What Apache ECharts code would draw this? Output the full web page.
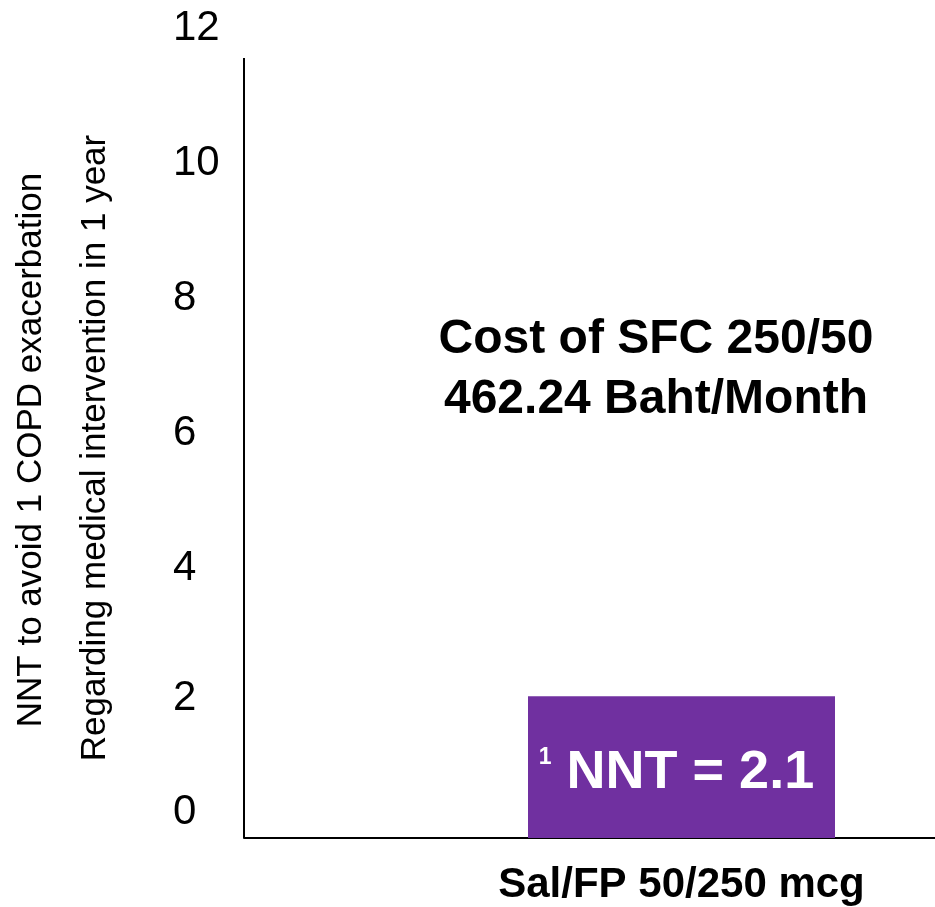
<!DOCTYPE html>
<html>
<head>
<meta charset="utf-8">
<title>NNT to avoid 1 COPD exacerbation</title>
<script src="https://cdn.jsdelivr.net/npm/echarts@6/dist/echarts.min.js"></script>
<style>
  html, body { margin: 0; padding: 0; background: #ffffff; }
  #chart { width: 935px; height: 907px; }
</style>
</head>
<body>
<div id="chart"></div>
<script>
// Treatment arm and its number needed to treat
const categories = ['Sal/FP 50/250 mcg'];
const nntValues = [2.1];

// Value axis range
const yMin = 0;
const yMax = 12;
const yStep = 2;

// Texts
const yTitleLines = [
  'NNT to avoid 1 COPD exacerbation',
  'Regarding medical intervention in 1 year'
];
const costNote = ['Cost of SFC 250/50', '462.24 Baht/Month'];

const FONT = '"Liberation Sans", Arial, Helvetica, sans-serif';

const chart = echarts.init(document.getElementById('chart'), null, { renderer: 'canvas' });

const valueAxisBase = { type: 'value', min: yMin, max: yMax, interval: yStep };

chart.setOption({
  animation: false,
  backgroundColor: '#ffffff',
  // grid 0 carries the visible axes; grid 1 (same height) places the bar band
  grid: [
    { left: 244, right: 0, top: 28, bottom: 69, containLabel: false },
    { left: 428, right: 0, top: 28, bottom: 69, containLabel: false }
  ],
  xAxis: [
    {
      gridIndex: 0,
      type: 'category',
      data: [''],
      axisLine: { show: true, lineStyle: { color: '#000000', width: 2 } },
      axisTick: { show: false },
      axisLabel: { show: false }
    },
    {
      gridIndex: 1,
      type: 'category',
      data: categories,
      axisLine: { show: false },
      axisTick: { show: false },
      axisLabel: {
        margin: 26,
        color: '#000000',
        fontFamily: FONT,
        fontSize: 42,
        fontWeight: 'bold'
      }
    }
  ],
  yAxis: [
    Object.assign({}, valueAxisBase, {
      gridIndex: 0,
      axisLine: { show: false },
      axisTick: { show: false },
      splitLine: { show: false },
      axisLabel: {
        align: 'left',
        margin: 71,
        color: '#000000',
        fontFamily: FONT,
        fontSize: 42,
        formatter: function (v) {
          if (v === 0) return '{z|' + v + '}';
          if (v === 2) return '{t|' + v + '}';
          return '{n|' + v + '}';
        },
        rich: {
          n: { fontFamily: FONT, fontSize: 42, color: '#000000' },
          t: { fontFamily: FONT, fontSize: 42, color: '#000000', padding: [0, 0, 10, 0] },
          z: { fontFamily: FONT, fontSize: 42, color: '#000000', padding: [0, 0, 52, 0] }
        }
      }
    }),
    Object.assign({}, valueAxisBase, {
      gridIndex: 1,
      show: false,
      splitLine: { show: false }
    })
  ],
  series: [{
    type: 'bar',
    xAxisIndex: 1,
    yAxisIndex: 1,
    data: nntValues,
    barWidth: 307,
    itemStyle: { color: '#7030A0' },
    label: {
      show: true,
      position: 'inside',
      offset: [-5, 6],
      formatter: function (p) { return '{s|1}{b| NNT = ' + p.value + '}'; },
      rich: {
        s: { fontFamily: FONT, fontSize: 23, fontWeight: 'bold', color: '#ffffff', verticalAlign: 'top', padding: [0, 0, 18, 0] },
        b: { fontFamily: FONT, fontSize: 54, fontWeight: 'bold', color: '#ffffff' }
      }
    }
  }],
  graphic: [
    // vertical value axis line
    {
      type: 'line',
      shape: { x1: 244, y1: 58, x2: 244, y2: 838 },
      style: { stroke: '#000000', lineWidth: 2 },
      z: 10
    },
    // rotated axis title, two lines
    {
      type: 'text',
      x: 31, y: 450,
      rotation: Math.PI / 2,
      style: {
        text: yTitleLines[0],
        fontFamily: FONT, fontSize: 35, fill: '#000000',
        align: 'center', verticalAlign: 'middle'
      }
    },
    {
      type: 'text',
      x: 95, y: 448,
      rotation: Math.PI / 2,
      style: {
        text: yTitleLines[1],
        fontFamily: FONT, fontSize: 35, fill: '#000000',
        align: 'center', verticalAlign: 'middle'
      }
    },
    // cost note
    {
      type: 'text',
      x: 656, y: 370,
      style: {
        text: costNote.join('\n'),
        fontFamily: FONT, fontSize: 48, fontWeight: 'bold', fill: '#000000',
        lineHeight: 60,
        align: 'center', verticalAlign: 'middle'
      }
    }
  ]
});
</script>
</body>
</html>
